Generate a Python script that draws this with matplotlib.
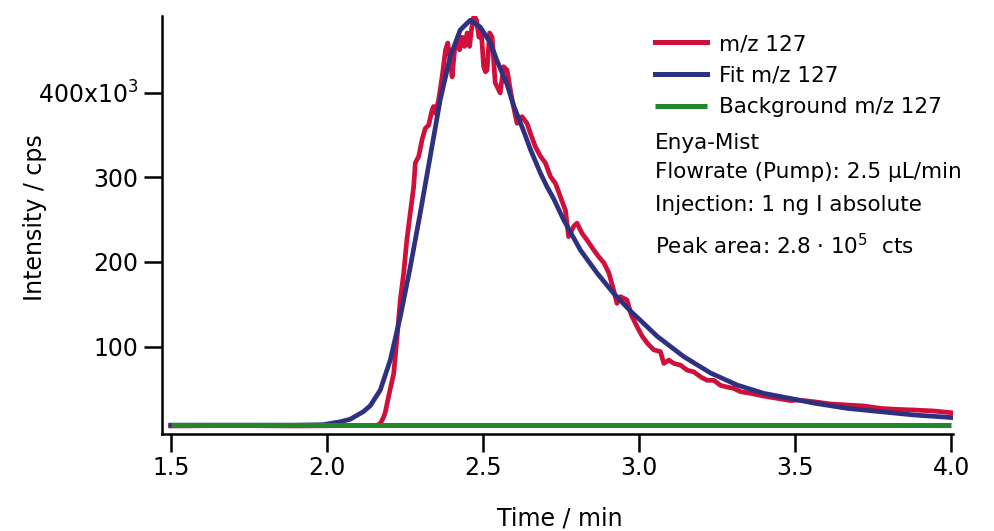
import matplotlib
matplotlib.use("Agg")
import matplotlib.pyplot as plt
from matplotlib.ticker import FuncFormatter

# ---- data (time in min, intensity in kcps) ----
red_t = [1.50, 1.70, 1.90, 2.10, 2.160, 2.171, 2.180, 2.187, 2.193, 2.203, 2.214, 2.224,
         2.235, 2.246, 2.256, 2.267, 2.278, 2.283, 2.294, 2.305, 2.315, 2.326, 2.337,
         2.342, 2.348, 2.358, 2.369, 2.380, 2.387, 2.395, 2.401, 2.409, 2.417, 2.425,
         2.433, 2.441, 2.449, 2.457, 2.463, 2.471, 2.479, 2.487, 2.494, 2.502, 2.508,
         2.513, 2.521, 2.529, 2.539, 2.555, 2.566, 2.577, 2.593, 2.609, 2.625, 2.641,
         2.652, 2.668, 2.684, 2.700, 2.716, 2.732, 2.748, 2.764, 2.774, 2.790, 2.801,
         2.817, 2.833, 2.855, 2.871, 2.887, 2.903, 2.918, 2.929, 2.940, 2.961, 2.975,
         2.994, 3.010, 3.026, 3.047, 3.068, 3.079, 3.095, 3.111, 3.132, 3.154, 3.175,
         3.197, 3.218, 3.239, 3.261, 3.282, 3.303, 3.325, 3.357, 3.399, 3.442, 3.485,
         3.506, 3.560, 3.613, 3.667, 3.720, 3.773, 3.827, 3.880, 3.944, 4.000]
red_y = [6.0, 6.5, 6.0, 6.5, 6.5, 9, 15, 22, 33, 50, 68, 108,
         155, 187, 226, 258, 289, 317, 325, 345, 358, 362, 380,
         384, 376, 392, 419, 451, 459, 439, 419, 451, 463, 451,
         466, 455, 471, 455, 475, 492, 486, 466, 475, 431, 425,
         427, 471, 466, 412, 400, 431, 427, 392, 364, 372, 364,
         352, 336, 325, 317, 301, 293, 277, 261, 230, 242, 246,
         234, 226, 214, 206, 199, 187, 167, 151, 159, 155, 137,
         123, 112, 104, 96, 94, 80, 84, 80, 78, 72, 70,
         64, 60, 60, 54, 52, 50.5, 46.5, 44.6, 41.4, 38.7, 36.0,
         36.7, 34.7, 32.0, 30.8, 29.6, 26.8, 25.6, 24.9, 23.7, 21.7]

fit_t = [1.50, 1.90, 1.988, 2.043, 2.075, 2.117, 2.139, 2.171, 2.203, 2.235, 2.267,
         2.299, 2.331, 2.363, 2.395, 2.427, 2.459, 2.491, 2.524, 2.545, 2.577, 2.598,
         2.630, 2.652, 2.684, 2.705, 2.726, 2.758, 2.812, 2.865, 2.918, 2.972, 3.004,
         3.058, 3.143, 3.229, 3.314, 3.399, 3.485, 3.560, 3.667, 3.773, 3.880, 4.000]
fit_y = [7, 7, 7.5, 11, 14, 23, 30, 48.5, 84, 135, 194,
         258, 325, 392, 443, 474.5, 486, 478, 459, 438, 410, 385,
         355, 333, 305, 289, 275, 250, 214, 187, 163, 142, 131,
         112, 88, 68.6, 54.4, 44.6, 38.5, 33, 26.8, 22.9, 19, 16]

bg_t = [1.50, 4.00]
bg_y = [7.5, 7.5]

labels = ["m/z 127", "Fit m/z 127", "Background m/z 127"]
info_lines = ["Enya-Mist", "Flowrate (Pump): 2.5 µL/min", "Injection: 1 ng I absolute",
              "Peak area: 2.8 · 10$^{5}$  cts"]
x_ticks = [1.5, 2.0, 2.5, 3.0, 3.5, 4.0]
y_ticks = [100, 200, 300, 400]

RED = "#d0103a"
BLUE = "#2e3180"
GREEN = "#22872a"

plt.rcParams['font.family'] = ['DejaVu Sans']
plt.rcParams['mathtext.fontset'] = 'dejavusans'

W, H = 995, 531
fig = plt.figure(figsize=(W / 100, H / 100), dpi=100)
L, R, T, B = 162, 953, 16, 434
ax = fig.add_axes([L / W, 1 - B / H, (R - L) / W, (B - T) / H])

ax.plot(red_t, [v * 1000 for v in red_y], color=RED, lw=3.4, label=labels[0], zorder=2)
ax.plot(fit_t, [v * 1000 for v in fit_y], color=BLUE, lw=3.4, label=labels[1], zorder=3)
ax.plot(bg_t, [v * 1000 for v in bg_y], color=GREEN, lw=3.6, label=labels[2], zorder=4,
        solid_capstyle='butt')

ax.set_xlim(1.472, 4.005)
ax.set_ylim(-3500, 491000)

for s in ['top', 'right']:
    ax.spines[s].set_visible(False)
for s in ['left', 'bottom']:
    ax.spines[s].set_linewidth(1.8)
    ax.spines[s].set_color('black')

ax.set_xticks(x_ticks)
ax.set_xticklabels([f"{v:.1f}" for v in x_ticks])
ax.set_yticks([v * 1000 for v in y_ticks])


def yfmt(v, pos):
    k = int(round(v / 1000))
    if k == max(y_ticks):
        return f"{k}x10$^{{3}}$"
    return f"{k}"


ax.yaxis.set_major_formatter(FuncFormatter(yfmt))
ax.tick_params(axis='both', direction='out', length=13, width=1.8, colors='black',
               labelsize=17, pad=4)
ax.tick_params(axis='x', pad=3)

ax.set_xlabel("Time / min", fontsize=17)
ax.set_ylabel("Intensity / cps", fontsize=17)
ax.xaxis.set_label_coords((560 - L) / (R - L), (B - 518) / (B - T))
ax.yaxis.set_label_coords((35 - L) / (R - L), (B - 218) / (B - T))
ax.xaxis.label.set_va('center')
ax.yaxis.label.set_va('center')

leg = ax.legend(loc='upper left', bbox_to_anchor=(655 / W, 1 - 34 / H),
                bbox_transform=fig.transFigure, frameon=False, fontsize=15.5,
                handlelength=2.4, handletextpad=0.55, labelspacing=0.54,
                borderpad=0, borderaxespad=0)
for ln in leg.get_lines():
    ln.set_linewidth(3.6)

ys = [143, 172, 205, 246]
for txt, yy in zip(info_lines, ys):
    fig.text(655 / W, 1 - yy / H, txt, fontsize=15.5, ha='left', va='center')

fig.savefig("out.png", dpi=100)
